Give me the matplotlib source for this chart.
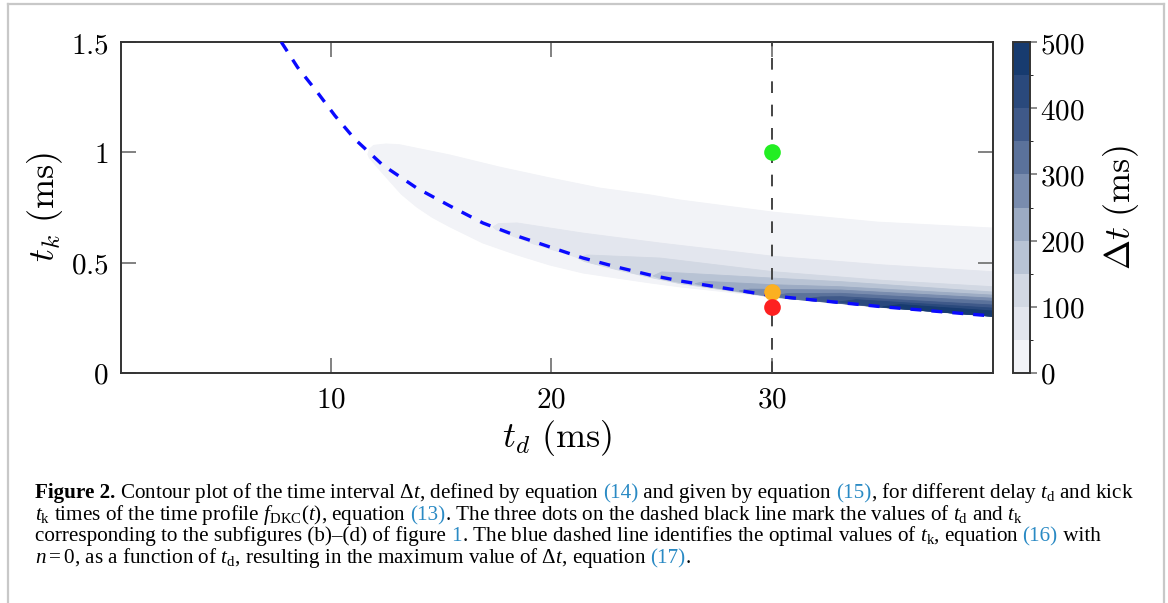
import matplotlib

matplotlib.use("Agg")
import matplotlib.pyplot as plt
from matplotlib.colors import BoundaryNorm, LinearSegmentedColormap, ListedColormap
from matplotlib.cm import ScalarMappable
from matplotlib.lines import Line2D

# ---- data (td, tk in ms) ----
TD_OPT = [7.76, 8.5, 9.35, 10.2, 11.09, 12.36, 13.9, 15.4, 16.89, 18.44, 19.93,
          21.43, 22.97, 24.47, 25.83, 30.05, 35.0, 40.0]
TK_OPT = [1.50, 1.385, 1.278, 1.165, 1.06, 0.942, 0.838, 0.757, 0.680, 0.621, 0.571,
          0.521, 0.480, 0.444, 0.417, 0.349, 0.300, 0.258]

LEVELS = [0, 50, 100, 150, 200, 250, 300, 350, 400, 450, 500]

# region where dt > level: upper edge (td, tk) and lower edge (td, tk)
BAND_UP_TD = [
    [11.68, 11.75, 11.95, 12.5, 13.1, 15.4, 17.66, 19.93, 22.2, 24.47, 25.83, 30.05,
     34.76, 40.0],
    [17.35, 17.6, 18.44, 21.43, 24.92, 30.05, 35.0, 40.0],
    [21.2, 21.6, 24.92, 30.05, 35.0, 40.0],
    [24.6, 25.0, 30.05, 33.1, 40.0],
    [26.5, 27.0, 30.05, 33.1, 40.0],
    [28.5, 29.0, 33.1, 40.0],
    [30.0, 30.7, 33.1, 40.0],
    [31.5, 32.2, 33.1, 40.0],
    [33.0, 33.8, 40.0],
    [35.0, 35.8, 40.0],
]
BAND_UP_TK = [
    [0.99, 1.015, 1.032, 1.038, 1.035, 0.988, 0.933, 0.884, 0.838, 0.807, 0.784, 0.729,
     0.684, 0.657],
    [0.662, 0.677, 0.680, 0.634, 0.589, 0.529, 0.49, 0.459],
    [0.52, 0.535, 0.521, 0.459, 0.42, 0.391],
    [0.44, 0.458, 0.43, 0.414, 0.367],
    [0.405, 0.415, 0.40, 0.391, 0.353],
    [0.372, 0.38, 0.376, 0.339],
    [0.35, 0.36, 0.361, 0.325],
    [0.336, 0.345, 0.346, 0.308],
    [0.322, 0.332, 0.294],
    [0.30, 0.31, 0.281],
]
BAND_LO_TD = [
    [11.68, 11.75, 12.2, 12.68, 13.2, 13.9, 14.6, 15.4, 16.89, 18.44, 19.93, 21.43, 22.97,
     24.47, 25.83, 30.05, 35.0, 40.0],
    [17.35, 17.51, 19.18, 21.44, 23.71, 25.83, 30.05, 35.0, 40.0],
    [21.2, 21.5, 22.97, 24.47, 25.83, 30.05, 35.0, 40.0],
    [24.6, 25.0, 25.83, 30.05, 35.0, 40.0],
    [26.5, 27.0, 30.05, 35.0, 40.0],
    [28.5, 29.0, 30.05, 35.0, 40.0],
    [30.0, 30.7, 35.0, 40.0],
    [31.5, 32.2, 35.0, 40.0],
    [33.0, 33.8, 35.0, 40.0],
    [35.0, 35.8, 40.0],
]
BAND_LO_TK = [
    [0.99, 0.975, 0.922, 0.868, 0.81, 0.752, 0.705, 0.662, 0.589, 0.535, 0.489, 0.453,
     0.430, 0.408, 0.390, 0.344, 0.297, 0.256],
    [0.662, 0.648, 0.585, 0.515, 0.455, 0.405, 0.344, 0.297, 0.256],
    [0.52, 0.505, 0.468, 0.433, 0.405, 0.343, 0.297, 0.256],
    [0.44, 0.425, 0.41, 0.344, 0.297, 0.257],
    [0.405, 0.393, 0.345, 0.298, 0.257],
    [0.372, 0.36, 0.346, 0.298, 0.257],
    [0.35, 0.337, 0.298, 0.257],
    [0.336, 0.325, 0.298, 0.257],
    [0.322, 0.312, 0.298, 0.257],
    [0.30, 0.292, 0.257],
]

TD_MARK = 30.0
DOT_TK = [1.0, 0.368, 0.30]
DOT_COLORS = ["#22ee22", "#fbb021", "#fd2020"]

X_TICKS = [10, 20, 30]
Y_TICKS = [0, 0.5, 1, 1.5]
Y_TICK_LABELS = ["0", "0.5", "1", "1.5"]
CB_TICKS = [0, 100, 200, 300, 400, 500]

BLUE_REF = "#2a8ac4"
CAPTION = [
    [("Figure 2.", "black", "bold"),
     (r" Contour plot of the time interval $\Delta t$, defined by equation ", "black", "normal"),
     ("(14)", BLUE_REF, "normal"),
     (" and given by equation ", "black", "normal"),
     ("(15)", BLUE_REF, "normal"),
     (r", for different delay $t_{\rm d}$ and kick", "black", "normal")],
    [(r"$t_{\rm k}$ times of the time profile $f_{\rm DKC}(t)$, equation ", "black", "normal"),
     ("(13)", BLUE_REF, "normal"),
     (r". The three dots on the dashed black line mark the values of $t_{\rm d}$ and $t_{\rm k}$",
      "black", "normal")],
    [("corresponding to the subfigures (b)–(d) of figure ", "black", "normal"),
     ("1", BLUE_REF, "normal"),
     (r". The blue dashed line identifies the optimal values of $t_{\rm k}$, equation ", "black",
      "normal"),
     ("(16)", BLUE_REF, "normal"),
     (" with", "black", "normal")],
    [(r"$n=0$, as a function of $t_{\rm d}$, resulting in the maximum value of $\Delta t$, equation ",
      "black", "normal"),
     ("(17)", BLUE_REF, "normal"),
     (".", "black", "normal")],
]

plt.rcParams["mathtext.fontset"] = "cm"
plt.rcParams["mathtext.rm"] = "Liberation Serif"
plt.rcParams["mathtext.it"] = "Liberation Serif:italic"
plt.rcParams["mathtext.bf"] = "Liberation Serif:bold"

W, H = 1168, 603
fig = plt.figure(figsize=(W / 100, H / 100), dpi=100)


def fx(px):
    return px / W


def fy(py):
    return 1 - py / H


ax = fig.add_axes([fx(121), fy(373), fx(993) - fx(121), fy(42) - fy(373)])
cax = fig.add_axes([fx(1013), fy(373), fx(1030) - fx(1013), fy(42) - fy(373)])

cmap = LinearSegmentedColormap.from_list(
    "dt", ["#f2f3f7", "#d6dce6", "#a9b6cb", "#6c81a6", "#3a5586", "#173b6f"])
n_bands = len(LEVELS) - 1
band_colors = [cmap(i / (n_bands - 1)) for i in range(n_bands)]

for i in range(n_bands):
    xs = BAND_UP_TD[i] + BAND_LO_TD[i][::-1]
    ys = BAND_UP_TK[i] + BAND_LO_TK[i][::-1]
    ax.fill(xs, ys, color=band_colors[i], lw=0.6, ec=band_colors[i], zorder=1 + i * 0.01)

ax.axvline(TD_MARK, color="#444444", lw=1.4, dashes=(6, 6), zorder=3)
ax.plot(TD_OPT, TK_OPT, color="#0a0aff", lw=2.4, dashes=(3.3, 3.0), zorder=4)
for tk, c in zip(DOT_TK, DOT_COLORS):
    ax.plot([TD_MARK], [tk], "o", ms=12, color=c, mec="none", zorder=5)

ax.set_xlim(0.5, 40)
ax.set_ylim(0, 1.5)
ax.set_xticks(X_TICKS, labels=[f"${v}$" for v in X_TICKS])
ax.set_yticks(Y_TICKS, labels=[f"${v}$" for v in Y_TICK_LABELS])
ax.tick_params(direction="in", length=11, width=1.3, color="#777777", labelsize=21,
               top=True, right=True, pad=9)
for s in ax.spines.values():
    s.set_color("#333333")
    s.set_linewidth(1.4)
ax.set_xlabel(r"$t_d\ (\mathrm{ms})$", fontsize=26, labelpad=3)
ax.set_ylabel(r"$t_k\ (\mathrm{ms})$", fontsize=26, labelpad=4)

norm = BoundaryNorm(LEVELS, n_bands)
sm = ScalarMappable(norm=norm, cmap=ListedColormap(band_colors))
cb = fig.colorbar(sm, cax=cax, ticks=CB_TICKS)
cb.ax.set_yticklabels([f"${v}$" for v in CB_TICKS])
cb.ax.tick_params(direction="out", length=5, width=1.2, color="#777777", labelsize=21, pad=2)
cb.outline.set_edgecolor("#333333")
cb.outline.set_linewidth(1.4)
cb.set_label(r"$\Delta t\ (\mathrm{ms})$", fontsize=26, labelpad=12)

# page frame
fig.add_artist(Line2D([fx(8), fx(8)], [fy(603), fy(4)], color="#c8c8c8", lw=1.6))
fig.add_artist(Line2D([fx(8), fx(1164)], [fy(4), fy(4)], color="#c8c8c8", lw=1.6))
fig.add_artist(Line2D([fx(1164), fx(1164)], [fy(4), fy(603)], color="#c8c8c8", lw=1.6))

# caption, several colours on a line
renderer = fig.canvas.get_renderer()
cap_props = dict(fontsize=15.2, family="Liberation Serif", math_fontfamily="custom")


def text_width(s, weight):
    a = fig.text(0, 0, "|" + s + "|", fontweight=weight, **cap_props)
    b = fig.text(0, 0, "||", fontweight=weight, **cap_props)
    w = a.get_window_extent(renderer).width - b.get_window_extent(renderer).width
    a.remove()
    b.remove()
    return w


baselines = [498, 520, 541, 563]
for line, yb in zip(CAPTION, baselines):
    x = 35
    for s, color, weight in line:
        fig.text(fx(x), fy(yb), s, color=color, fontweight=weight, va="baseline", ha="left",
                 **cap_props)
        x += text_width(s, weight)

fig.savefig("out.png", dpi=100)
